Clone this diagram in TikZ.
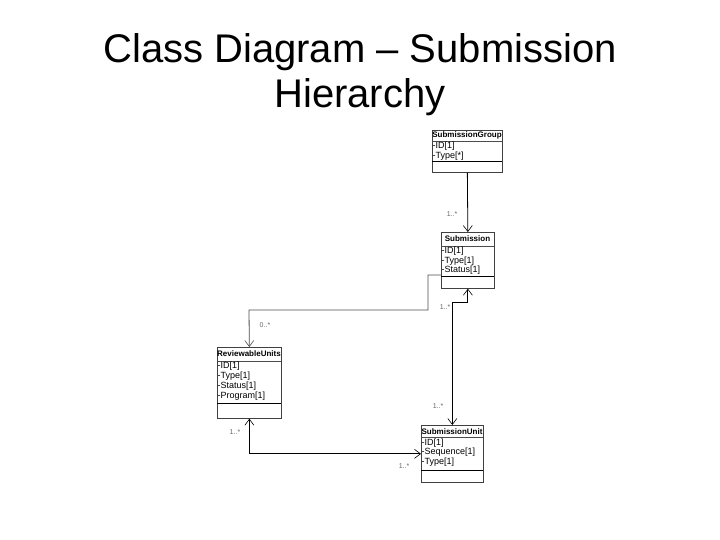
\documentclass[tikz,border=0pt]{standalone}
\usepackage{fontspec}
\setmainfont{Liberation Sans}
\usetikzlibrary{arrows.meta}
\tikzset{
  classbox/.style={draw=black!75, line width=0.7pt, inner sep=0pt, anchor=north west},
  hdr/.style={font=\fontsize{8}{9}\selectfont\bfseries, inner sep=0pt},
  attr/.style={font=\fontsize{9}{9}\selectfont, anchor=west, inner sep=0pt},
  thinsep/.style={draw=black!70, line width=0.5pt},
  thicksep/.style={draw=black, line width=1pt},
  assoc/.style={draw=black, line width=0.8pt},
  barb/.tip={Straight Barb[length=6pt,width=9pt,line width=0.6pt]},
  mult/.style={font=\fontsize{7}{7}\selectfont, text=black!60, inner sep=0pt},
  titletext/.style={font=\fontsize{40}{46}\selectfont, anchor=base, inner sep=0pt}
}
\begin{document}
\begin{tikzpicture}[x=1pt,y=-1pt]
\useasboundingbox (0,0) rectangle (720,540);
% title
\node[titletext] (t1) at (360,63) {Class Diagram – Submission};
\node[titletext] (t2) at (360,108) {Hierarchy};

% SubmissionGroup
\node[classbox, minimum width=70pt, minimum height=42pt] (sg) at (432,130) {};
\node[hdr] (sgh) at (467,135.5) {SubmissionGroup};
\draw[thinsep] (432,141) -- (502,141);
\node[attr] (sga1) at (432.5,146) {-ID[1]};
\node[attr] (sga2) at (432.5,156) {-Type[*]};
\draw[thicksep] (432,162) -- (502,162);

% Submission
\node[classbox, minimum width=53pt, minimum height=56pt] (sub) at (441,232) {};
\node[hdr] (subh) at (467.5,239) {Submission};
\draw[thinsep] (441,246) -- (494,246);
\node[attr] (suba1) at (441.5,251) {-ID[1]};
\node[attr] (suba2) at (441.5,261) {-Type[1]};
\node[attr] (suba3) at (441.5,270.5) {-Status[1]};
\draw[thicksep] (441,276.5) -- (494,276.5);

% ReviewableUnits
\node[classbox, minimum width=64pt, minimum height=71pt] (ru) at (217,347) {};
\node[hdr] (ruh) at (249,354) {ReviewableUnits};
\draw[thinsep] (217,361) -- (281,361);
\node[attr] (rua1) at (217.5,366.5) {-ID[1]};
\node[attr] (rua2) at (217.5,376) {-Type[1]};
\node[attr] (rua3) at (217.5,386) {-Status[1]};
\node[attr] (rua4) at (217.5,396) {-Program[1]};
\draw[thicksep] (217,403) -- (281,403);

% SubmissionUnit
\node[classbox, minimum width=62pt, minimum height=57pt] (su) at (421,425) {};
\node[hdr] (suh) at (452,431.5) {SubmissionUnit};
\draw[thinsep] (421,437.5) -- (483,437.5);
\node[attr] (sua1) at (421.5,443) {-ID[1]};
\node[attr] (sua2) at (421.5,452.5) {-Sequence[1]};
\node[attr] (sua3) at (421.5,462.5) {-Type[1]};
\draw[thicksep] (421,470.5) -- (483,470.5);

% connectors
\draw[assoc, -barb] (sg.south) -- (sub.north);
\draw[assoc, draw=black!70, -barb] (sub.west |- 0,275) -- (428,275) -- (428,310) -- (249,310) -- (ru.north);
\draw[assoc, barb-barb] (sub.south) -- ++(0,14) -| (su.north);
\draw[assoc, barb-barb] (ru.south) |- (su.west);

% multiplicities
\node[mult] (m1) at (452,214) {1..*};
\node[mult] (m2) at (445,307) {1..*};
\node[mult] (m3) at (265,325) {0..*};
\node[mult] (m4) at (438,406) {1..*};
\node[mult] (m5) at (235,432) {1..*};
\node[mult] (m6) at (404,466) {1..*};
\end{tikzpicture}
\end{document}
